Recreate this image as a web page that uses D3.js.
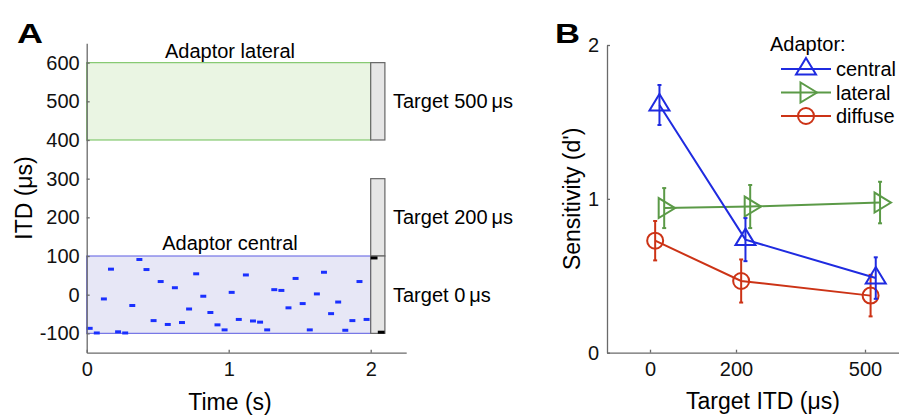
<!DOCTYPE html>
<html>
<head>
<meta charset="utf-8">
<script src="https://cdn.jsdelivr.net/npm/d3@7"></script>
<style>
  body { margin: 0; background: #fff; }
  svg { display: block; font-family: "Liberation Sans", Arial, sans-serif; }
  .axis path, .axis line { stroke: #6a6a6a; stroke-width: 1.3; }
  .axis text { font-size: 20px; fill: #111; font-family: "Liberation Sans", Arial, sans-serif; }
</style>
</head>
<body>
<div id="chart"></div>
<script>
"use strict";
// ---- panel A data ----
const dashStart = [0, 0.05, 0.10, 0.15, 0.20, 0.25, 0.30, 0.35, 0.40, 0.45,
    0.50, 0.55, 0.60, 0.65, 0.70, 0.75, 0.80, 0.85, 0.90, 0.95,
    1.00, 1.05, 1.10, 1.15, 1.20, 1.25, 1.30, 1.35, 1.40, 1.45,
    1.50, 1.55, 1.60, 1.65, 1.70, 1.75, 1.80, 1.85, 1.90, 1.95];
const dashITD = [-87, -99, -11, 66, -96, -99, -28, 91, 65, -67,
    34, -77, 18, -72, -37, 54, -4, -46, -78, -91,
    6, -64, 51, -68, -71, -91, 13, 11, -34, 42,
    -23, -91, 2, 58, -49, -19, -92, -67, 34, -64];
const dashLen = 0.042;
const targetDashStart = [2.0, 2.05];
const targetDashITD = [95, -97];
const adaptorLateral = [400, 600];
const adaptorCentral = [-100, 100];
const adaptorTime = [0, 2];
const targetTime = [2, 2.1];
const targetRanges = [[400, 600], [100, 300], [-100, 100]];
const targetLabels = ["Target 500\u2009\u03bcs", "Target 200\u2009\u03bcs", "Target 0\u2009\u03bcs"];
const targetLabelITD = [500, 200, 0];
const timeTicks = [0, 1, 2];
const itdTicks = [-100, 0, 100, 200, 300, 400, 500, 600];

// ---- panel B data ----
const targetITD = [0, 200, 500];
const seriesNames = ["central", "lateral", "diffuse"];
const plotITD = {
    central: [22, 222, 525],
    lateral: [33, 233, 535],
    diffuse: [12, 212, 513]
};
const centralD = [1.61, 0.735, 0.485];
const centralErr = [0.13, 0.14, 0.135];
const lateralD = [0.94, 0.95, 0.976];
const lateralErr = [0.13, 0.14, 0.135];
const diffuseD = [0.728, 0.466, 0.371];
const diffuseErr = [0.128, 0.14, 0.135];
const sensTicks = [0, 1, 2];

const colors = { central: "#1f2be0", lateral: "#5b9a47", diffuse: "#cc3316" };
const markers = { central: "up", lateral: "right", diffuse: "circle" };

const width = 899, height = 417;
const svg = d3.select("#chart").append("svg")
    .attr("width", width).attr("height", height);
svg.append("rect").attr("width", width).attr("height", height).attr("fill", "#fff");

// plain hyphen minus like the original figure
const plainFormat = d => String(d);

// ================= Panel A =================
const xA = d3.scaleLinear().domain([0, 2.25]).range([86.7, 406.2]);
const yA = d3.scaleLinear().domain([-150, 650]).range([352.7, 43.3]);
const gA = svg.append("g");

gA.append("rect")
    .attr("x", xA(adaptorTime[0])).attr("y", yA(adaptorLateral[1]))
    .attr("width", xA(adaptorTime[1]) - xA(adaptorTime[0]))
    .attr("height", yA(adaptorLateral[0]) - yA(adaptorLateral[1]))
    .attr("fill", "#eaf5e3").attr("stroke", "#84c96f").attr("stroke-width", 1.2);

gA.append("rect")
    .attr("x", xA(adaptorTime[0])).attr("y", yA(adaptorCentral[1]))
    .attr("width", xA(adaptorTime[1]) - xA(adaptorTime[0]))
    .attr("height", yA(adaptorCentral[0]) - yA(adaptorCentral[1]))
    .attr("fill", "#e7e7f6").attr("stroke", "#7474e6").attr("stroke-width", 1.2);

gA.selectAll(".target").data(targetRanges).enter().append("rect")
    .attr("class", "target")
    .attr("x", xA(targetTime[0])).attr("y", d => yA(d[1]))
    .attr("width", xA(targetTime[1]) - xA(targetTime[0]))
    .attr("height", d => yA(d[0]) - yA(d[1]))
    .attr("fill", "#e6e6e6").attr("stroke", "#666").attr("stroke-width", 1.2);

gA.selectAll(".dash").data(dashStart).enter().append("line")
    .attr("class", "dash")
    .attr("x1", d => xA(d)).attr("x2", d => xA(d + dashLen))
    .attr("y1", (d, i) => yA(dashITD[i])).attr("y2", (d, i) => yA(dashITD[i]))
    .attr("stroke", "#1a30ff").attr("stroke-width", 3);

gA.selectAll(".tdash").data(targetDashStart).enter().append("line")
    .attr("class", "tdash")
    .attr("x1", d => xA(d)).attr("x2", d => xA(d + 0.048))
    .attr("y1", (d, i) => yA(targetDashITD[i])).attr("y2", (d, i) => yA(targetDashITD[i]))
    .attr("stroke", "#000").attr("stroke-width", 3);

gA.append("g").attr("class", "axis")
    .attr("transform", `translate(0,${yA(-150)})`)
    .call(d3.axisBottom(xA).tickValues(timeTicks).tickFormat(plainFormat)
        .tickSize(-3).tickSizeOuter(0).tickPadding(9));

gA.append("g").attr("class", "axis")
    .attr("transform", `translate(${xA(0)},0)`)
    .call(d3.axisLeft(yA).tickValues(itdTicks).tickFormat(plainFormat)
        .tickSize(-3).tickSizeOuter(0).tickPadding(7));

gA.append("text").attr("x", 230).attr("y", 58).attr("text-anchor", "middle")
    .attr("font-size", 20).text("Adaptor lateral");
gA.append("text").attr("x", 230).attr("y", 250).attr("text-anchor", "middle")
    .attr("font-size", 20).text("Adaptor central");

gA.selectAll(".tlabel").data(targetLabels).enter().append("text")
    .attr("class", "tlabel")
    .attr("x", 393).attr("y", (d, i) => yA(targetLabelITD[i]))
    .attr("dy", "0.35em").attr("font-size", 20).text(d => d);

gA.append("text").attr("x", 230).attr("y", 410).attr("text-anchor", "middle")
    .attr("font-size", 23).text("Time (s)");
gA.append("text")
    .attr("transform", `translate(32,${yA(250)}) rotate(-90)`)
    .attr("text-anchor", "middle").attr("font-size", 23).text("ITD (\u03bcs)");
gA.append("text").attr("x", 17).attr("y", 43)
    .attr("font-size", 28).attr("font-weight", "bold")
    .attr("textLength", 26).attr("lengthAdjust", "spacingAndGlyphs").text("A");

// ================= Panel B =================
const xB = d3.scaleLinear().domain([-100, 600]).range([607, 908]);
const yB = d3.scaleLinear().domain([0, 2]).range([352.7, 45]);
const gB = svg.append("g");

gB.append("g").attr("class", "axis")
    .attr("transform", `translate(0,${yB(0)})`)
    .call(d3.axisBottom(xB).tickValues(targetITD).tickFormat(plainFormat)
        .tickSize(-3).tickSizeOuter(0).tickPadding(9));

gB.append("g").attr("class", "axis")
    .attr("transform", `translate(${xB(-100)},0)`)
    .call(d3.axisLeft(yB).tickValues(sensTicks).tickFormat(plainFormat)
        .tickSize(-3).tickSizeOuter(0).tickPadding(8));

const seriesData = {
    central: { d: centralD, err: centralErr },
    lateral: { d: lateralD, err: lateralErr },
    diffuse: { d: diffuseD, err: diffuseErr }
};

function drawMarker(g, type, cx, cy, color) {
    if (type === "circle") {
        g.append("circle").attr("cx", cx).attr("cy", cy).attr("r", 8)
            .attr("fill", "none").attr("stroke", color).attr("stroke-width", 2);
    } else {
        let pts;
        if (type === "up") {
            pts = [[0, -11], [10, 5.5], [-10, 5.5]];
        } else {
            pts = [[11, 0], [-5.5, -10], [-5.5, 10]];
        }
        g.append("path")
            .attr("d", "M" + pts.map(p => (cx + p[0]) + "," + (cy + p[1])).join("L") + "Z")
            .attr("fill", "none").attr("stroke", color).attr("stroke-width", 2)
            .attr("stroke-linejoin", "miter");
    }
}

const line = d3.line().x(d => xB(d[0])).y(d => yB(d[1]));

// draw order: diffuse, lateral, central on top
["diffuse", "lateral", "central"].forEach(function (name) {
    const s = seriesData[name];
    const color = colors[name];
    const pts = plotITD[name].map((x, i) => [x, s.d[i]]);
    const g = gB.append("g");
    g.append("path").attr("d", line(pts)).attr("fill", "none")
        .attr("stroke", color).attr("stroke-width", 2);
    pts.forEach(function (p, i) {
        const x = xB(p[0]);
        const y0 = yB(p[1] - s.err[i]), y1 = yB(p[1] + s.err[i]);
        g.append("line").attr("x1", x).attr("x2", x).attr("y1", y0).attr("y2", y1)
            .attr("stroke", color).attr("stroke-width", 2);
        [y0, y1].forEach(function (yy) {
            g.append("line").attr("x1", x - 2).attr("x2", x + 2).attr("y1", yy).attr("y2", yy)
                .attr("stroke", color).attr("stroke-width", 2);
        });
        drawMarker(g, markers[name], x, yB(p[1]), color);
    });
});

// legend
const legend = gB.append("g");
legend.append("text").attr("x", 770).attr("y", 51).attr("font-size", 20).text("Adaptor:");
const legendY = [69, 92.5, 116];
seriesNames.forEach(function (name, i) {
    const y = legendY[i];
    legend.append("line").attr("x1", 781).attr("x2", 831).attr("y1", y).attr("y2", y)
        .attr("stroke", colors[name]).attr("stroke-width", 2);
    drawMarker(legend, markers[name], 806, y, colors[name]);
    legend.append("text").attr("x", 836).attr("y", y).attr("dy", "0.35em")
        .attr("font-size", 20).text(name);
});

gB.append("text").attr("x", 763).attr("y", 409).attr("text-anchor", "middle")
    .attr("font-size", 23).text("Target ITD (\u03bcs)");
gB.append("text")
    .attr("transform", `translate(580,${yB(1)}) rotate(-90)`)
    .attr("text-anchor", "middle").attr("font-size", 23).text("Sensitivity (d')");
gB.append("text").attr("x", 555).attr("y", 43)
    .attr("font-size", 28).attr("font-weight", "bold")
    .attr("textLength", 25).attr("lengthAdjust", "spacingAndGlyphs").text("B");
</script>
</body>
</html>
